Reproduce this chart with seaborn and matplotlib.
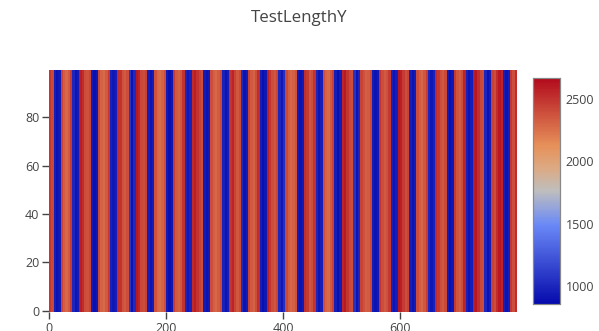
import numpy as np
import pandas as pd
import matplotlib
matplotlib.use("Agg")
import matplotlib.pyplot as plt
from matplotlib.colors import LinearSegmentedColormap
import seaborn as sns

# Each stripe value covers STRIPE_W consecutive x positions.
STRIPE_W = 4
N_ROWS = 100

# Warm bands between the blue bands (values in stripe units).
warm_bands = [
    [2480, 2420],
    [2440, 2330, 2290, 2350, 2470],
    [2590, 2530, 2400, 2380, 2440],
    [2420, 2310, 2280, 2350, 2480],
    [2530, 2500, 2380, 2340, 2400],
    [2610, 2560, 2420, 2400, 2450],
    [2380, 2300, 2270, 2310, 2400],
    [2470, 2350, 2310, 2360, 2500],
    [2540, 2580, 2500, 2440, 2400],
    [2400, 2320, 2290, 2340, 2420],
    [2500, 2560, 2440, 2360, 2410],
    [2440, 2350, 2310, 2400, 2530],
    [2580, 2490, 2400, 2360, 2430],
    [2420, 2330, 2300, 2320, 2380],
    [2520, 2470, 2360, 2400, 2500],
    [2400, 2310, 2280, 2350, 2450],
    [2560, 2600, 2490, 2420, 2400],
    [2440, 2380, 2320, 2340, 2420],
    [2500, 2400, 2340, 2380, 2480],
    [2620, 2580, 2470, 2400, 2440],
    [2400, 2330, 2300, 2360, 2470],
    [2540, 2480, 2400, 2350, 2420],
    [2470, 2370, 2330, 2400, 2560],
    [2590, 2620, 2520, 2420, 2400],
    [2450, 2400, 2530, 2620, 2560],
    [2480, 2400, 2530],
]

# Blue bands (three stripes each).
cool_bands = [
    [960, 900, 940], [1000, 910, 950], [950, 890, 930], [980, 920, 960],
    [1080, 900, 1020], [960, 900, 950], [940, 890, 930], [1000, 920, 980],
    [950, 900, 940], [980, 910, 960], [1020, 900, 950], [960, 890, 930],
    [1000, 920, 1040], [950, 900, 940], [990, 910, 960], [960, 890, 950],
    [1060, 910, 1000], [950, 900, 940], [980, 910, 960], [960, 900, 950],
    [1000, 920, 980], [950, 890, 930], [980, 910, 960], [1000, 900, 950],
    [970, 910, 960],
]

zmin, zmax = 855, 2670
x_ticks = [0, 200, 400, 600]
y_ticks = [0, 20, 40, 60, 80]
title = "TestLengthY"

# Assemble the column profile: warm, cool, warm, cool, ..., warm
stripes = []
for i, warm in enumerate(warm_bands):
    stripes.extend(warm)
    if i < len(cool_bands):
        stripes.extend(cool_bands[i])
col_values = np.repeat(np.array(stripes, dtype=float), STRIPE_W)
n_cols = col_values.size
grid = pd.DataFrame(np.tile(col_values, (N_ROWS, 1)))

# Red-blue diverging scale (blue low, red high)
stops = [
    (0.00, (5, 10, 172)),
    (0.35, (106, 137, 247)),
    (0.50, (190, 190, 190)),
    (0.60, (220, 170, 132)),
    (0.70, (230, 145, 90)),
    (1.00, (178, 10, 28)),
]
cmap = LinearSegmentedColormap.from_list(
    "rdbu_scale", [(p, tuple(c / 255 for c in rgb)) for p, rgb in stops]
)

sns.set_theme(style="white")
plt.rcParams["font.family"] = ["Open Sans", "DejaVu Sans"]
text_color = "#444444"

W, H = 599, 331
fig = plt.figure(figsize=(W / 100, H / 100), dpi=100)
ax = fig.add_axes([49 / W, (H - 312) / H, (517 - 49) / W, (312 - 70) / H])
cax = fig.add_axes([533 / W, (H - 304) / H, (560 - 533) / W, (304 - 78) / H])

sns.heatmap(
    grid, ax=ax, cbar_ax=cax, cmap=cmap, vmin=zmin, vmax=zmax,
    xticklabels=False, yticklabels=False, rasterized=True,
)
ax.invert_yaxis()
ax.set_xlim(0, n_cols)
ax.set_ylim(0, N_ROWS)

ax.set_xticks([t + 0.5 for t in x_ticks])
ax.set_xticklabels([str(t) for t in x_ticks])
ax.set_yticks([t + 0.5 for t in y_ticks])
ax.set_yticklabels([str(t) for t in y_ticks])
ax.tick_params(axis="both", which="both", length=5, width=1, color="#444444",
               labelsize=9, labelcolor=text_color, direction="out",
               bottom=True, left=True, pad=2)
for s in ax.spines.values():
    s.set_visible(False)
ax.set_xlabel("")
ax.set_ylabel("")

cax.tick_params(length=0, labelsize=9, labelcolor=text_color, pad=4)
cax.set_yticks([1000, 1500, 2000, 2500])
cax.set_yticklabels(["1000", "1500", "2000", "2500"])
for s in cax.spines.values():
    s.set_visible(True)
    s.set_color("#888888")
    s.set_linewidth(0.8)

fig.text(0.5, 1 - 18 / H, title, ha="center", va="center",
         fontsize=12.2, color=text_color)

fig.savefig("out.png", dpi=100, facecolor="white")
